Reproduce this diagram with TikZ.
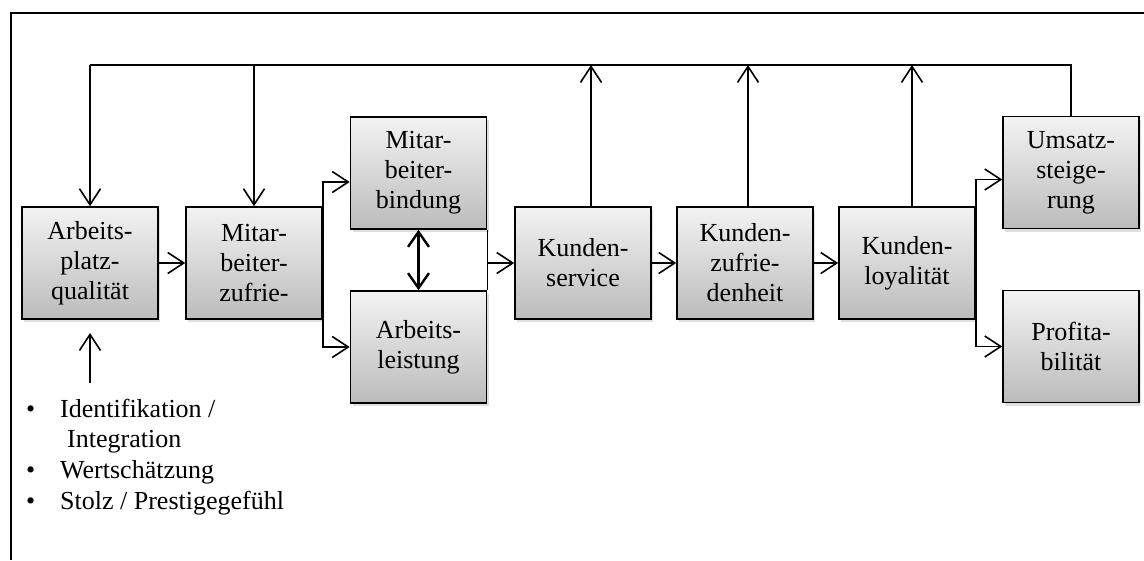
\documentclass[tikz,border=0pt]{standalone}
\usepackage{fontspec}
\setmainfont{Liberation Serif}
\usetikzlibrary{arrows.meta,shadows}
\definecolor{boxtop}{HTML}{F3F3F3}
\definecolor{boxbot}{HTML}{BBBBBB}
\begin{document}
\begin{tikzpicture}[x=1pt,y=-1pt,
  box/.style={draw, line width=1.6pt, minimum width=136pt, minimum height=112pt, inner sep=0pt,
    top color=boxtop, bottom color=boxbot, align=center,
    font=\fontsize{26}{30}\selectfont,
    drop shadow={shadow xshift=2pt, shadow yshift=-3pt, opacity=0.25}},
  conn/.style={line width=1.6pt},
  arr/.style={conn, -{Straight Barb[length=16pt,width=21pt,line width=1.6pt]}},
  dbl/.style={line width=2.4pt, {Straight Barb[length=15pt,width=21pt,line width=2.4pt]}-{Straight Barb[length=15pt,width=21pt,line width=2.4pt]}},
  lbl/.style={anchor=base west, inner sep=0pt, font=\fontsize{26}{30}\selectfont}]
\useasboundingbox (0,0) rectangle (1144,560);
% frame (cut off at right and bottom)
\draw[line width=1.6pt] (11,560) -- (11,13) -- (1144,13);

% boxes
\node[box] (b1) at (90,263) {Arbeits-\\platz-\\qualität};
\node[box] (b2) at (254,263) {Mitar-\\beiter-\\zufrie-};
\node[box] (b3) at (418.5,173) {Mitar-\\beiter-\\bindung};
\node[box] (b4) at (418.5,347) {Arbeits-\\leistung};
\node[box] (b5) at (583,263) {Kunden-\\service};
\node[box] (b6) at (745,263) {Kunden-\\zufrie-\\denheit};
\node[box] (b7) at (907,263) {Kunden-\\loyalität};
\node[box] (b8) at (1071,172.5) {Umsatz-\\steige-\\rung};
\node[box] (b9) at (1071,346.5) {Profita-\\bilität};

% top feedback line
\coordinate (tl) at (90,65);
\coordinate (tr) at (1071,65);
\draw[conn] (tl) -- (tr) -- (b8.north);
\draw[arr] (tl) -- (b1.north);
\draw[arr] (b2.north |- tl) -- (b2.north);
\draw[arr] ([xshift=8pt]b5.north) -- ([xshift=8pt]b5.north |- tl);
\draw[arr] ([xshift=3pt]b6.north) -- ([xshift=3pt]b6.north |- tl);
\draw[arr] ([xshift=5pt]b7.north) -- ([xshift=5pt]b7.north |- tl);

% main flow
\draw[arr] (b1) -- (b2);
\draw[arr] (b2.east) |- ([yshift=-9pt]b3.west);
\draw[arr] (b2.east) |- (b4.west);
\draw[dbl] (b3) -- (b4);
\draw[conn] (b3.south east) -- (b4.north east);
\draw[arr] (b3.east |- b5.west) -- (b5.west);
\draw[arr] (b5) -- (b6);
\draw[arr] (b6) -- (b7);
\draw[arr] (b7.east) |- ([yshift=-7pt]b8.west);
\draw[arr] (b7.east) |- (b9.west);

% input arrow
\coordinate (inp) at (90,383);
\coordinate (inptip) at (90,333);
\draw[arr] (inp) -- (inptip);

% bullet list
\node[lbl] (d1) at (26,417) {•};
\node[lbl] (t1) at (60,417) {Identifikation /};
\node[lbl] (t1b) at (67,447) {Integration};
\node[lbl] (d2) at (26,478) {•};
\node[lbl] (t2) at (60,478) {Wertschätzung};
\node[lbl] (d3) at (26,509) {•};
\node[lbl] (t3) at (60,509) {Stolz / Prestigegefühl};
\end{tikzpicture}
\end{document}
